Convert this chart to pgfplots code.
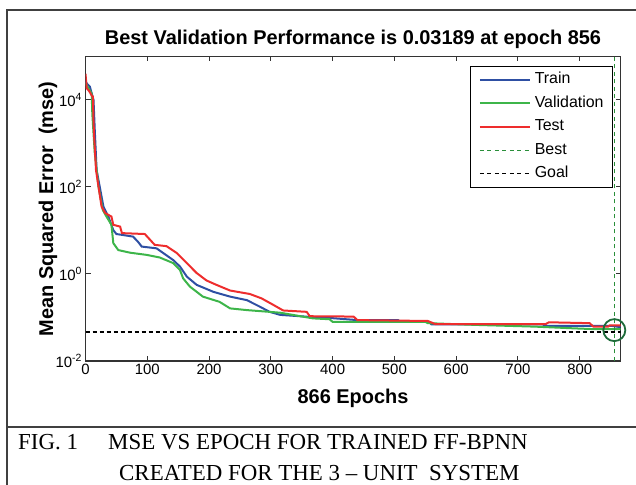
\documentclass[border=0pt]{standalone}
\usepackage{pgfplots}
\pgfplotsset{compat=1.18}
\usepackage{fontspec}
\setmainfont{Liberation Sans}
\newfontfamily\seriffont{Liberation Serif}
\definecolor{trainblue}{HTML}{2E4FA3}
\definecolor{valgreen}{HTML}{3DB54A}
\definecolor{testred}{HTML}{EE2D2D}
\definecolor{bestgreen}{HTML}{2A8F3A}
\definecolor{circgreen}{HTML}{1E6B3A}
\begin{document}
\begin{tikzpicture}
\useasboundingbox (0bp,0bp) rectangle (636bp,485bp);
\draw[line width=1.5bp, black!75] (7bp,0bp) -- (7bp,475bp) -- (636bp,475bp);
\draw[line width=1.5bp, black!75] (7bp,58bp) -- (636bp,58bp);
\begin{axis}[
  at={(85.5bp,124bp)}, anchor=south west, scale only axis,
  width=535bp, height=304.5bp,
  xmin=0, xmax=866, ymode=log, ymin=1e-2, ymax=1e5,
  xtick={0,100,...,800}, ytick={1e-2,1,1e2,1e4},
  yticklabels={10\textsuperscript{-2},10\textsuperscript{0},10\textsuperscript{2},10\textsuperscript{4}},
  yminorticks=false,
  tick align=inside, major tick length=5bp,
  axis line style={line width=1.2bp, black!80},
  tick style={line width=1bp, black!80},
  ticklabel style={font=\fontsize{15}{15}\selectfont},
  /pgf/number format/assume math mode=true,
  legend cell align=left,
  legend style={at={(rel axis cs:0.986,0.969)}, anchor=north east, draw=black, line width=0.8bp, fill=white,
    font=\fontsize{16}{16}\selectfont, inner xsep=8bp, inner ysep=5bp, row sep=6.5bp, column sep=3bp,
    nodes={inner sep=1bp, text height=11.5bp, text depth=3.5bp}},
  legend image code/.code={\draw[#1] (0bp,0bp) -- (50bp,0bp);},
]
\addplot[trainblue, line width=2bp] coordinates {
(0,28200) (2,24000) (7,20400) (13,10000) (15,2042) (18,245) (23,102) (29,35.5) (37,20.9) (45,10.2) (50,8.3)
(77,7.24) (85,5.5) (91,4.27) (115,3.89) (126,3.02) (142,2.09) (153,1.48) (164,0.871) (180,0.562) (207,0.389)
(234,0.302) (261,0.251) (282,0.178) (298,0.135) (315,0.115) (368,0.102) (395,0.0977) (440,0.0871) (506,0.0871)
(510,0.0794) (556,0.0794) (560,0.0692) (740,0.0692) (745,0.0646) (850,0.0646) (866,0.060)
};
\addlegendentry{Train}
\addplot[valgreen, line width=2bp] coordinates {
(0,25100) (3,20400) (10,14100) (11,4900) (15,603) (21,102) (28,29.5) (34,20.9) (42,13.5) (45,5.13) (53,3.55)
(72,3.09) (99,2.75) (120,2.40) (142,1.78) (153,1.23) (158,0.794) (169,0.513) (190,0.302) (217,0.229) (234,0.162)
(261,0.148) (315,0.129) (368,0.0955) (395,0.0912) (400,0.0794) (550,0.0794) (554,0.0741) (631,0.0676)
(727,0.0617) (792,0.0562) (828,0.0537) (866,0.0537)
};
\addlegendentry{Validation}
\addplot[testred, line width=2bp] coordinates {
(0,40000) (2,18600) (6,16000) (11,12000) (12,12000) (13,3162) (14,1445) (17,245) (21,102) (26,35.5) (32,25.1)
(42,20.9) (45,13.5) (56,12.3) (59,8.7) (96,8.3) (112,4.68) (131,4.37) (148,3.02) (164,1.78) (180,1.05)
(196,0.708) (212,0.562) (234,0.417) (266,0.347) (285,0.275) (304,0.195) (320,0.145) (358,0.135) (363,0.107)
(434,0.105) (440,0.0871) (554,0.0832) (566,0.0708) (745,0.0708) (750,0.0776) (816,0.0741) (822,0.0617)
(846,0.0617) (849,0.0661) (866,0.0661)
};
\addlegendentry{Test}
\addplot[bestgreen, line width=1.2bp, dash pattern=on 4bp off 3.5bp] coordinates {(856,1e-2) (856,1e5)};
\addlegendentry{Best}
\addplot[black, line width=1.8bp, dash pattern=on 4bp off 3bp, forget plot] coordinates {(0,0.0465) (866,0.0465)};
\addlegendimage{black, line width=0.9bp, dash pattern=on 4bp off 3.5bp}
\addlegendentry{Goal}
\addplot[only marks, mark=o, mark size=11bp, circgreen, mark options={line width=1.8bp}, forget plot] coordinates {(856,0.0513)};
\end{axis}
\node[font=\fontsize{20}{20}\selectfont\bfseries, anchor=base, inner sep=0] at (353bp,440bp) {Best Validation Performance is 0.03189 at epoch 856};
\node[font=\fontsize{20}{20}\selectfont\bfseries, anchor=base, inner sep=0] at (353bp,81bp) {866 Epochs};
\node[font=\fontsize{20}{20}\selectfont\bfseries, rotate=90, anchor=center, inner sep=0] at (48bp,276bp) {Mean Squared Error~~(mse)};
\node[font=\seriffont\fontsize{23}{23}\selectfont, anchor=base west, inner sep=0] at (18bp,36bp) {FIG. 1};
\node[font=\seriffont\fontsize{23}{23}\selectfont, anchor=base west, inner sep=0] at (108bp,36bp) {MSE VS EPOCH FOR TRAINED FF-BPNN};
\node[font=\seriffont\fontsize{23}{23}\selectfont, anchor=base west, inner sep=0] at (119bp,5bp) {CREATED FOR THE 3 – UNIT~~SYSTEM};
\end{tikzpicture}
\end{document}
